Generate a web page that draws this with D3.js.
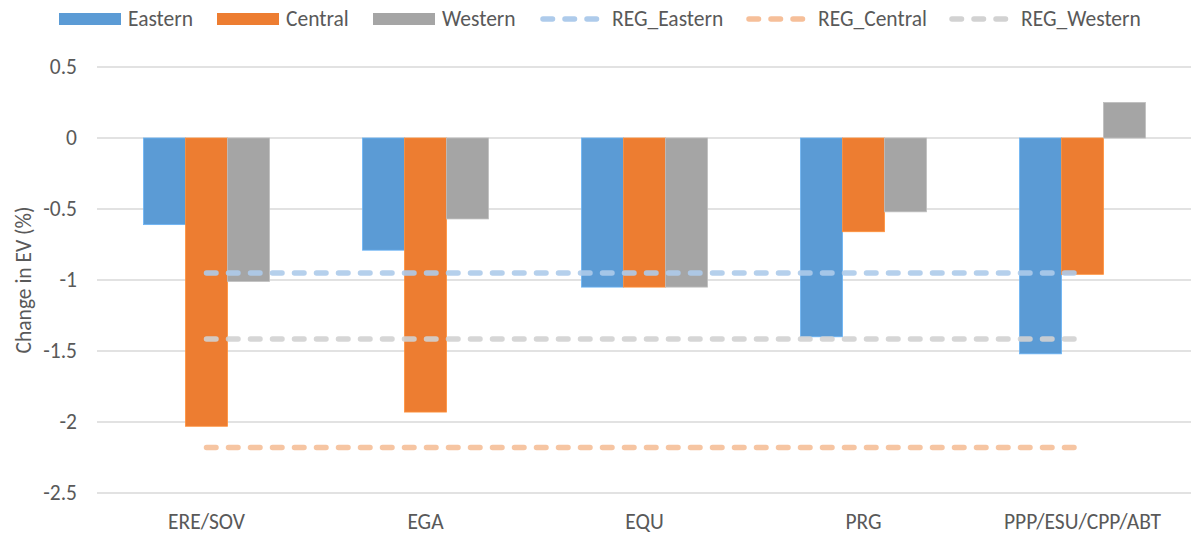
<!DOCTYPE html>
<html><head><meta charset="utf-8">
<script src="https://cdn.jsdelivr.net/npm/d3@7"></script>
<style>body{margin:0;background:#fff}svg{display:block}text{font-family:Carlito,"Open Sans","Liberation Sans",sans-serif;fill:#595959}</style>
</head><body><svg id="c" width="1191" height="535"></svg>
<script>
const categories = ["ERE/SOV","EGA","EQU","PRG","PPP/ESU/CPP/ABT"];
const seriesNames = ["Eastern","Central","Western"];
const eastern = [-0.61,-0.79,-1.05,-1.40,-1.52];
const central = [-2.03,-1.93,-1.05,-0.66,-0.96];
const western = [-1.01,-0.57,-1.05,-0.52,0.25];
const regNames = ["REG_Eastern","REG_Central","REG_Western"];
const regValues = [-0.95,-2.18,-1.415];
const yTicks = [0.5,0,-0.5,-1,-1.5,-2,-2.5];

const barColors = ["#5b9bd5","#ed7d31","#a5a5a5"];
const regColors = ["#aecbeb","#f6bf99","#d2d2d2"];
const series = [eastern, central, western];
const FS = 21.5;

const svg = d3.select("#c");
const x = d3.scaleBand().domain(categories).range([97,1192]).paddingInner(0.425).paddingOuter(0.2125);
const xs = d3.scaleBand().domain(seriesNames).range([0,x.bandwidth()]);
const y = d3.scaleLinear().domain([-2.5,0.5]).range([493,67]);

// grid
svg.append("g").selectAll("line").data(yTicks).join("line")
  .attr("x1",97).attr("x2",1191).attr("y1",d=>y(d)).attr("y2",d=>y(d))
  .attr("stroke","#d9d9d9").attr("stroke-width",1.3);
// y labels
svg.append("g").selectAll("text").data(yTicks).join("text")
  .attr("x",77).attr("y",d=>y(d)+7).attr("text-anchor","end").attr("font-size",FS)
  .text(d=>d);
// y title
svg.append("text").attr("transform","translate(31,280) rotate(-90)").attr("text-anchor","middle")
  .attr("font-size",FS).text("Change in EV (%)");
// x labels
svg.append("g").selectAll("text").data(categories).join("text")
  .attr("x",d=>x(d)+x.bandwidth()/2).attr("y",529).attr("text-anchor","middle").attr("font-size",FS)
  .text(d=>d);
// bars
series.forEach((vals,si)=>{
  svg.append("g").selectAll("rect").data(vals).join("rect")
    .attr("x",(d,i)=>x(categories[i])+xs(seriesNames[si]))
    .attr("width",xs.bandwidth())
    .attr("y",d=>y(Math.max(0,d)))
    .attr("height",d=>Math.abs(y(d)-y(0)))
    .attr("fill",barColors[si])
    .attr("stroke",d3.color(barColors[si]).brighter(0.4)).attr("stroke-width",0.8);
});
// REG lines
const cx = d=>x(d)+x.bandwidth()/2;
regValues.forEach((v,i)=>{
  svg.append("line").attr("x1",cx(categories[0])).attr("x2",cx(categories[categories.length-1]))
    .attr("y1",y(v)).attr("y2",y(v)).attr("stroke",regColors[i]).attr("stroke-width",5.5)
    .attr("stroke-dasharray","9.5 12.5").attr("stroke-linecap","round").attr("opacity",0.9);
});
// legend
const leg = [
  {t:"bar",c:barColors[0],n:seriesNames[0],x:59},
  {t:"bar",c:barColors[1],n:seriesNames[1],x:217},
  {t:"bar",c:barColors[2],n:seriesNames[2],x:373},
  {t:"line",c:regColors[0],n:regNames[0],x:540},
  {t:"line",c:regColors[1],n:regNames[1],x:746},
  {t:"line",c:regColors[2],n:regNames[2],x:949}
];
const lg = svg.append("g");
leg.forEach(l=>{
  if(l.t==="bar") lg.append("rect").attr("x",l.x).attr("y",13).attr("width",62).attr("height",12).attr("fill",l.c);
  else lg.append("line").attr("x1",l.x+3).attr("x2",l.x+58).attr("y1",19).attr("y2",19).attr("stroke",l.c)
    .attr("stroke-width",5.5).attr("stroke-dasharray","9.5 12.5").attr("stroke-linecap","round");
  lg.append("text").attr("x",l.t==="bar"?l.x+69:l.x+72).attr("y",26).attr("font-size",FS).text(l.n);
});
</script></body></html>
